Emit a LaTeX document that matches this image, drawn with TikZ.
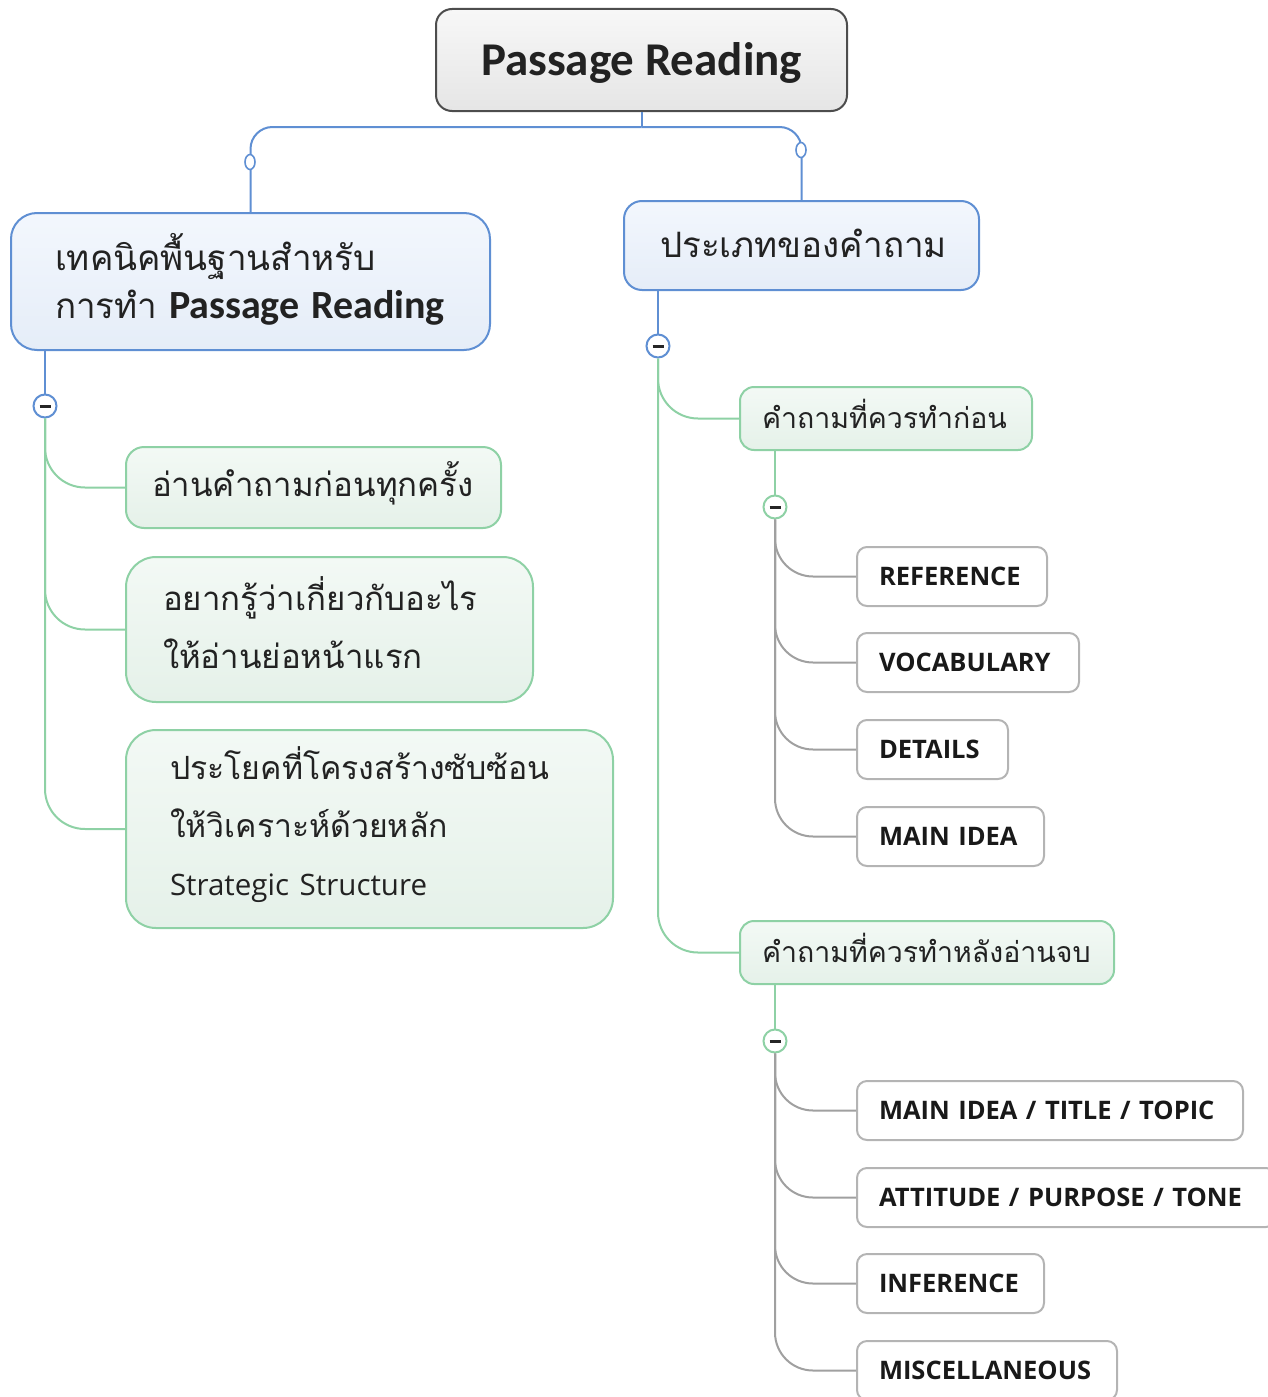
\documentclass[tikz,border=0pt]{standalone}
\usepackage{fontspec}
\setmainfont{Open Sans}
\newfontfamily\thaifont[Script=Thai]{Loma}
\newfontfamily\califont{Carlito}
\newfontfamily\capsfont{Open Sans}
\usetikzlibrary{calc,shapes.geometric}
\definecolor{rootborder}{HTML}{4D4D4D}
\definecolor{blueborder}{HTML}{5F8FD3}
\definecolor{bluetop}{HTML}{F3F7FD}
\definecolor{bluebot}{HTML}{E5EDF8}
\definecolor{greenborder}{HTML}{8ED1A5}
\definecolor{greentop}{HTML}{F3F9F5}
\definecolor{greenbot}{HTML}{E5F1E9}
\definecolor{grayborder}{HTML}{B4B4B4}
\definecolor{grayline}{HTML}{A0A0A0}
\definecolor{txt}{HTML}{222222}
\newcommand{\liftby}[1]{\par\vspace{#1pt}}
\tikzset{
  rootbox/.style={draw=rootborder, line width=2pt, rounded corners=16pt, top color=white!97!black, bottom color=white!90!black, text=txt, inner sep=0pt},
  bluebox/.style={draw=blueborder, line width=2pt, top color=bluetop, bottom color=bluebot, text=txt, align=left, inner ysep=0pt},
  greenbox/.style={draw=greenborder, line width=2pt, top color=greentop, bottom color=greenbot, text=txt, align=left, inner ysep=0pt},
  graybox/.style={draw=grayborder, line width=2pt, rounded corners=10pt, fill=white, text=black!90, align=left, inner xsep=22pt, inner ysep=0pt, minimum height=59pt, anchor=west, font=\capsfont\bfseries\fontsize{25.5}{30}\selectfont},
  bline/.style={draw=blueborder, line width=2pt},
  gline/.style={draw=greenborder, line width=2pt},
  kline/.style={draw=grayline, line width=2pt},
  togglebox/.style={circle, draw=#1, line width=2pt, fill=white, minimum size=23pt, inner sep=0pt,
    path picture={\draw[line width=3pt, black!85] ([xshift=-5.5pt]path picture bounding box.center) -- ([xshift=5.5pt]path picture bounding box.center);}},
  conpt/.style={ellipse, draw=blueborder, line width=1.6pt, fill=white, minimum width=10pt, minimum height=15pt, inner sep=0pt},
  thaibig/.style={font=\thaifont\fontsize{33}{58}\selectfont},
}
\begin{document}
\begin{tikzpicture}[x=1pt,y=-1pt]
\useasboundingbox (0,0) rectangle (1268,1397);
\clip (0,0) rectangle (1268,1397);

% root
\node[rootbox, minimum width=411pt, minimum height=102pt] (root) at (641.5,60) {\makebox[0pt]{\raisebox{-15pt}[0pt][0pt]{\califont\bfseries\fontsize{47}{52}\selectfont Passage Reading}}};

% level 1
\node[bluebox, rounded corners=26pt, minimum width=479pt, minimum height=137pt, inner xsep=44pt, text width=391pt, font=\thaifont\fontsize{35}{48}\selectfont] (l1) at (250.5,281.5)
  {เทคนิคพื้นฐานสำหรับ\\การทำ {\califont\bfseries\fontsize{40}{48}\selectfont Passage Reading}\liftby{5}};
\node[bluebox, rounded corners=18pt, minimum width=355pt, minimum height=89pt, inner xsep=36pt, text width=283pt, font=\thaifont\fontsize{35}{48}\selectfont] (r1) at (801.5,245.5)
  {ประเภทของคำถาม\liftby{4}};

% left children
\node[greenbox, rounded corners=18pt, minimum width=375pt, minimum height=81pt, inner xsep=26pt, text width=323pt, thaibig] (c1) at (313.5,487.5)
  {อ่านคำถามก่อนทุกครั้ง\liftby{8}};
\node[greenbox, rounded corners=30pt, minimum width=407pt, minimum height=145pt, inner xsep=37pt, text width=333pt, thaibig] (c2) at (329.5,629.5)
  {อยากรู้ว่าเกี่ยวกับอะไร\\ให้อ่านย่อหน้าแรก\liftby{13}};
\node[greenbox, rounded corners=30pt, minimum width=487pt, minimum height=198pt, inner xsep=44pt, text width=399pt, font=\thaifont\fontsize{32}{58}\selectfont] (c3) at (369.5,829)
  {ประโยคที่โครงสร้างซับซ้อน\\ให้วิเคราะห์ด้วยหลัก\\{\fontsize{29.5}{60}\selectfont\rmfamily Strategic Structure}\liftby{9}};

% right children
\node[greenbox, rounded corners=14pt, minimum width=292pt, minimum height=63pt, inner xsep=22pt, text width=248pt, font=\thaifont\fontsize{28.5}{36}\selectfont] (g1) at (886,418.5)
  {คำถามที่ควรทำก่อน\liftby{9}};
\node[greenbox, rounded corners=14pt, minimum width=374pt, minimum height=63pt, inner xsep=22pt, text width=330pt, font=\thaifont\fontsize{28.5}{36}\selectfont] (g2) at (927,952.5)
  {คำถามที่ควรทำหลังอ่านจบ\liftby{9}};

% gray leaves
\node[graybox, minimum width=190pt, text width=146pt] (ref) at (856,576.5) {REFERENCE};
\node[graybox, minimum width=222pt, text width=178pt] (voc) at (856,662.5) {VOCABULARY};
\node[graybox, minimum width=151pt, text width=107pt] (det) at (856,749.5) {DETAILS};
\node[graybox, minimum width=187pt, text width=143pt] (mia) at (856,836.5) {MAIN IDEA};
\node[graybox, minimum width=386pt, text width=342pt] (mit) at (856,1110.5) {MAIN IDEA / TITLE / TOPIC};
\node[graybox, minimum width=419pt, text width=375pt] (att) at (856,1197.5) {ATTITUDE / PURPOSE / TONE};
\node[graybox, minimum width=187pt, text width=143pt] (inf) at (856,1283.5) {INFERENCE};
\node[graybox, minimum width=260pt, text width=216pt] (mis) at (856,1370.5) {MISCELLANEOUS};

% toggles
\node[togglebox=blueborder] (lc) at (45,406) {};
\node[togglebox=blueborder] (rc) at (658,346) {};
\node[togglebox=greenborder] (g1c) at (775,507) {};
\node[togglebox=greenborder] (g2c) at (775,1041) {};

% top connectors
\coordinate (hub) at (root.south |- 0,127);
\draw[bline] (root.south) -- (hub);
\draw[bline, rounded corners=22pt] (hub) -| (l1.north);
\draw[bline, rounded corners=22pt] (hub) -| (r1.north);
\node[conpt] (lp) at (250,162) {};
\node[conpt] (rp) at (801,150) {};

% level1 to toggles
\draw[bline] (l1.south -| lc) -- (lc.north);
\draw[bline] (r1.south -| rc) -- (rc.north);

% left branch
\draw[gline, rounded corners=40pt] (lc.south) |- (c1.west);
\draw[gline, rounded corners=40pt] (lc.south) |- (c2.west);
\draw[gline, rounded corners=40pt] (lc.south) |- (c3.west);

% right branch
\draw[gline, rounded corners=40pt] (rc.south) |- (g1.west);
\draw[gline, rounded corners=40pt] (rc.south) |- (g2.west);
\draw[gline] (g1.south -| g1c) -- (g1c.north);
\draw[gline] (g2.south -| g2c) -- (g2c.north);

% gray leaves connectors
\foreach \n in {ref,voc,det,mia} {\draw[kline, rounded corners=38pt] (g1c.south) |- (\n.west);}
\foreach \n in {mit,att,inf,mis} {\draw[kline, rounded corners=38pt] (g2c.south) |- (\n.west);}
\end{tikzpicture}
\end{document}
